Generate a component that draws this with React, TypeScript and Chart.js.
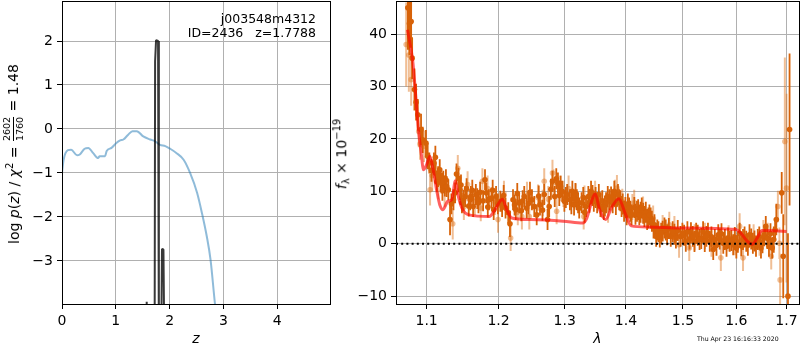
import React, { useEffect, useRef } from "react";
import { Chart, registerables } from "chart.js";

Chart.register(...registerables);

// ---------- Left panel: redshift PDF ----------
const zChi = [0, 0.03, 0.11, 0.17, 0.28, 0.33, 0.42, 0.49, 0.58, 0.67, 0.7, 0.8, 0.83, 0.92, 1.01, 1.08, 1.14, 1.23, 1.31, 1.39, 1.51, 1.64, 1.73, 1.82, 1.92, 2.01, 2.13, 2.26, 2.38, 2.51, 2.6, 2.69, 2.76, 2.84, 2.9];
const logChi = [-1.0, -0.7, -0.48, -0.47, -0.6, -0.58, -0.45, -0.43, -0.55, -0.66, -0.62, -0.62, -0.5, -0.43, -0.32, -0.26, -0.24, -0.13, -0.05, -0.05, -0.17, -0.24, -0.28, -0.36, -0.39, -0.45, -0.55, -0.7, -1.0, -1.45, -1.91, -2.44, -2.97, -3.95, -4.6];
const zPz = [1.5, 1.565, 1.571, 1.577, 1.65, 1.72, 1.73, 1.748, 1.765, 1.785, 1.8, 1.83, 1.858, 1.885, 1.91, 1.95, 2.05];
const logPz = [-8, -4.2, -3.93, -4.2, -8, -6, 1.54, 2.02, 2.02, 2.0, -5, -7, -2.73, -2.74, -6, -8, -10];
const zTicks = [0, 1, 2, 3, 4];
const logPTicks = [-3, -2, -1, 0, 1, 2];
const zMin = 0, zMax = 4.98;
const logPMin = -3.98, logPMax = 2.91;

// ---------- Right panel: spectrum ----------
// beam 1 (opaque)
const waveA = [1.0753, 1.0774, 1.0796, 1.0809, 1.0839, 1.0861, 1.0883, 1.0926, 1.0948, 1.0991, 1.1014, 1.1036, 1.1098, 1.112, 1.1154, 1.1176, 1.12, 1.1224, 1.126, 1.127, 1.1316, 1.1363, 1.1386, 1.1433, 1.1455, 1.148, 1.1525, 1.1595, 1.1605, 1.1637, 1.1675, 1.1712, 1.1805, 1.1824, 1.1861, 1.1898, 1.193, 1.1964, 1.2026, 1.2052, 1.2102, 1.2142, 1.2167, 1.2212, 1.2253, 1.2303, 1.2379, 1.2415, 1.2495, 1.253, 1.2567, 1.2617, 1.2682, 1.2733, 1.2758, 1.2809, 1.2844, 1.2894, 1.2935, 1.2961, 1.2995, 1.3039, 1.3082, 1.3121, 1.3148, 1.3192, 1.323, 1.3269, 1.334, 1.3377, 1.3421, 1.3466, 1.352, 1.3574, 1.363, 1.3667, 1.3722, 1.3777, 1.3804, 1.3886, 1.3926, 1.3968, 1.4012, 1.4053, 1.4095, 1.4188, 1.4228, 1.427, 1.4316, 1.4363, 1.4403, 1.4446, 1.4491, 1.4521, 1.4561, 1.4609, 1.4667, 1.4714, 1.4814, 1.4872, 1.4989, 1.5051, 1.5179, 1.5241, 1.5304, 1.5369, 1.5431, 1.5494, 1.5559, 1.5589, 1.5654, 1.5749, 1.5811, 1.5874, 1.5939, 1.6, 1.6064, 1.613, 1.6193, 1.6257, 1.6323, 1.642, 1.6484, 1.658, 1.6644, 1.6741, 1.6793, 1.6903, 1.6934, 1.7031, 1.7064];
const fluxA = [45, 42, 42.4, 35.4, 29.4, 27, 24.6, 21.8, 19.8, 19.2, 16.7, 15.4, 15.4, 13.5, 12.8, 14.1, 11.6, 11.9, 12.2, 10.9, 4.6, 8.4, 9.7, 12.5, 10.3, 7.8, 9.0, 8.4, 9.0, 7.1, 9.4, 7.8, 12.2, 9.7, 8.4, 8.7, 6.5, 9.0, 8.1, 7.1, 6.8, 5.9, 3.8, 8.4, 6.5, 7.8, 9.0, 6.8, 8.4, 7.1, 5.5, 7.4, 9.4, 4.6, 7.1, 11.9, 9.0, 11.6, 10.9, 10.0, 8.1, 9.4, 8.4, 10.0, 7.4, 8.4, 6.8, 7.8, 7.1, 9.0, 10.0, 8.1, 7.8, 7.1, 6.5, 7.8, 8.4, 7.8, 10.0, 8.4, 7.1, 6.2, 5.5, 6.8, 5.5, 6.2, 5.5, 6.8, 5.2, 4.6, 5.5, 4.3, 3.6, 1.4, 2.3, 2.0, 3.0, 1.7, 2.3, 1.1, 2.0, 0.45, 1.4, 2.0, 0.8, 2.3, 1.4, 0.45, -1.1, 0.8, 1.7, 0.1, -0.5, 0.45, -0.2, -0.8, 2.0, 0.8, 0.45, 1.7, 0.1, 0.8, -0.8, 3.3, -0.5, 0.8, 4.6, 9.7, -2.4, -10, 21.8];
const errA = [8, 6, 5, 4, 4, 3.5, 3, 3, 2.5, 2.5, 2.5, 2, 2, 2, 2, 2, 2, 2, 2, 2, 3, 2, 2, 2, 2, 2, 2, 2, 2, 2, 2, 2, 2, 2, 2, 2, 2, 2, 2, 2, 2, 2, 2.5, 2, 2, 2, 2, 2, 2, 2, 2, 2, 2, 2, 2, 2, 2, 2, 2, 2, 2, 2, 2, 2, 2, 2, 2, 2, 2, 2, 2, 2, 2, 2, 2, 2, 2, 2, 2, 2, 2, 2, 2, 2, 2, 2, 2, 2, 2, 2, 2, 2, 2, 2, 2, 2, 2, 2, 2, 2, 2, 2, 2, 2, 2, 2, 2, 2, 2, 2, 2, 2, 2, 2, 2, 2, 2, 2, 2, 2, 2, 2, 2, 2, 2, 2.5, 3, 4, 8, 12, 14.5];

// beam 2 (opaque)
const waveA2 = [1.1065, 1.1117, 1.1138, 1.1188, 1.1212, 1.1245, 1.1293, 1.1335, 1.1405, 1.1467, 1.1502, 1.1545, 1.1575, 1.1625, 1.1695, 1.1735, 1.1778, 1.1845, 1.1915, 1.199, 1.2075, 1.2235, 1.2275, 1.2335, 1.2355, 1.244, 1.2465, 1.2598, 1.2655, 1.2785, 1.2868, 1.2915, 1.3018, 1.3105, 1.317, 1.3212, 1.3295, 1.3318, 1.3395, 1.3445, 1.3495, 1.3548, 1.3605, 1.3648, 1.3695, 1.375, 1.383, 1.3865, 1.3905, 1.3945, 1.399, 1.4032, 1.4075, 1.4142, 1.4162, 1.4208, 1.425, 1.4295, 1.434, 1.4385, 1.4425, 1.4475, 1.4541, 1.4585, 1.4635, 1.469, 1.4745, 1.478, 1.4845, 1.4905, 1.4955, 1.502, 1.508, 1.512, 1.5145, 1.521, 1.527, 1.5335, 1.54, 1.546, 1.5525, 1.562, 1.568, 1.5715, 1.578, 1.584, 1.5905, 1.597, 1.603, 1.6095, 1.616, 1.6225, 1.629, 1.6355, 1.6385, 1.645, 1.6515, 1.655, 1.6612, 1.6675, 1.671, 1.6768];
const fluxA2 = [14.0, 16.5, 11.8, 12.5, 10.2, 11.0, 10.3, 7.6, 13.3, 11.2, 8.3, 10.5, 7.2, 10.2, 8.6, 9.8, 8.2, 7.0, 10.2, 7.6, 9.2, 7.4, 9.6, 6.3, 8.2, 7.6, 9.8, 9.1, 6.4, 10.4, 12.4, 9.2, 8.8, 7.6, 9.6, 7.8, 8.8, 6.0, 7.9, 9.2, 8.8, 9.4, 8.2, 7.2, 9.0, 8.9, 7.5, 9.4, 8.2, 7.6, 6.9, 7.6, 6.2, 6.9, 5.6, 6.5, 6.0, 5.8, 6.0, 4.9, 4.9, 3.0, 2.6, 1.3, 2.4, 2.6, 2.9, 1.4, 1.8, 2.5, 1.4, 1.6, 2.3, 0.9, 2.1, 0.4, 1.6, 1.0, 0.4, 2.0, 1.3, -0.3, 0.9, 1.9, 0.8, 1.1, 0.6, 1.2, 0.3, -0.4, 1.3, -0.3, 0.9, 0.5, -0.5, 1.3, 0.2, 1.5, 1.0, 1.9, -0.8, 2.6];
const errA2 = [2.2, 2.2, 2, 2, 2, 2, 2, 2, 2, 2, 2, 2, 2, 2, 2, 2, 2, 2, 2, 2, 2, 2, 2, 2, 2, 2, 2, 2, 2, 2, 2, 2, 2, 2, 2, 2, 2, 2, 2, 2, 2, 2, 2, 2, 2, 2, 2, 2, 2, 2, 2, 2, 2, 2, 2, 2, 2, 2, 2, 2, 2, 2, 2, 2, 2, 2, 2, 2, 2, 2, 2, 2, 2, 2, 2, 2, 2, 2, 2, 2, 2, 2, 2, 2, 2, 2, 2, 2, 2, 2, 2, 2, 2, 2, 2, 2, 2, 2, 2, 2, 2, 2];

// beam 3 (transparent)
const waveB = [1.0731, 1.0766, 1.0796, 1.0896, 1.0913, 1.0965, 1.1046, 1.1074, 1.1158, 1.1242, 1.1353, 1.1423, 1.1507, 1.1559, 1.1661, 1.1745, 1.1768, 1.1842, 1.1947, 1.1992, 1.2079, 1.2177, 1.2283, 1.2344, 1.242, 1.2455, 1.2586, 1.2658, 1.2682, 1.2745, 1.2809, 1.2824, 1.2874, 1.2935, 1.298, 1.3061, 1.3175, 1.3302, 1.3315, 1.3487, 1.3594, 1.37, 1.3815, 1.3848, 1.3938, 1.4109, 1.414, 1.4293, 1.4468, 1.4635, 1.4754, 1.4845, 1.4929, 1.5114, 1.5213, 1.5403, 1.5526, 1.5703, 1.585, 1.5971, 1.6064, 1.613, 1.6338, 1.6455, 1.6532, 1.6619, 1.669, 1.6825, 1.6856, 1.687, 1.6967, 1.7];
const fluxB = [38, 36, 31.3, 21.4, 19, 18.6, 10.3, 13, 11.5, 10, 3.8, 14.4, 7, 11.3, 8.0, 6.8, 11.9, 10.5, 8.0, 4.6, 9.5, 1.1, 6.0, 5.2, 9.3, 5.2, 8.8, 7.8, 11.9, 8.5, 13.5, 11.7, 6.2, 10.6, 9.5, 10.5, 9.0, 5.2, 8.6, 9.5, 7.5, 6.5, 9.7, 10.6, 8.0, 7.0, 7.8, 6.5, 4.8, 3.0, 3.6, 2.8, -0.2, -0.8, 1.2, 1.5, 0.0, -2.7, 1.0, 0.3, 3.3, -2.7, 1.2, 0.2, 2.0, 1.5, -2.4, 7.1, 0.1, -6.9, 19.5, 10.6];
const errB = [8, 7, 5, 3, 3, 3, 3, 3, 3, 3, 3, 2.5, 2.5, 2.5, 2.5, 2.5, 2.5, 2.5, 2.5, 2.5, 2.5, 2.5, 2.5, 2.5, 2.5, 2.5, 2.5, 2.5, 2.5, 2.5, 2.5, 2.5, 2.5, 2.5, 2.5, 2.5, 2.5, 2.5, 2.5, 2.5, 2.5, 2.5, 2.5, 2.5, 2.5, 2.5, 2.5, 2.5, 2.5, 2.5, 2.5, 2.5, 2.5, 2.5, 2.5, 2.5, 2.5, 2.5, 2.5, 2.5, 2.5, 2.5, 2.5, 2.5, 2.5, 2.5, 2.5, 3, 3, 5, 16, 18];

const modelWave = [1.0748, 1.0815, 1.0857, 1.0887, 1.0933, 1.0955, 1.1, 1.1044, 1.1088, 1.1133, 1.1177, 1.122, 1.1286, 1.134, 1.139, 1.1431, 1.149, 1.158, 1.1868, 1.1935, 1.2057, 1.212, 1.2195, 1.2468, 1.2975, 1.3288, 1.3342, 1.349, 1.356, 1.366, 1.3755, 1.388, 1.3983, 1.409, 1.437, 1.496, 1.6, 1.609, 1.6215, 1.631, 1.641, 1.6505, 1.7];
const modelFlux = [40.8, 35.1, 28.1, 22.4, 16.7, 14.1, 15.1, 16.7, 14.1, 10.3, 7.4, 6.5, 8.1, 8.4, 12.0, 9.0, 6.5, 5.5, 5.2, 6.2, 8.5, 6.5, 4.9, 4.6, 4.3, 3.95, 4.6, 9.5, 6.5, 4.6, 6.8, 8.6, 5.9, 3.4, 3.2, 3.0, 2.7, 2.0, 0.45, -0.1, 1.1, 2.5, 2.35];

const lamTicks = [1.1, 1.2, 1.3, 1.4, 1.5, 1.6, 1.7];
const fluxTicks = [-10, 0, 10, 20, 30, 40];
const lamMin = 1.06, lamMax = 1.726;
const fluxMin = -11.5, fluxMax = 46.3;

// ---------- helpers ----------
const FONT = "'DejaVu Sans', sans-serif";
const fmtNum = (v: number, d: number) => {
  const s = Math.abs(v).toFixed(d);
  return v < 0 ? "\u2212" + s : s;
};
const pairs = (xs: number[], ys: number[]) => xs.map((x, i) => ({ x, y: ys[i] }));
const errSegments = (xs: number[], ys: number[], es: number[]) => {
  const out: any[] = [];
  xs.forEach((x, i) => {
    out.push({ x, y: ys[i] - es[i] }, { x, y: ys[i] + es[i] }, { x, y: null });
  });
  return out;
};

const framePlugin = {
  id: "frame",
  afterDatasetsDraw(chart: any) {
    const { ctx, chartArea: a } = chart;
    ctx.save();
    ctx.strokeStyle = "#000";
    ctx.lineWidth = 1;
    ctx.strokeRect(Math.round(a.left) + 0.5, Math.round(a.top) + 0.5, Math.round(a.right - a.left), Math.round(a.bottom - a.top));
    ctx.restore();
  },
};

const gridOpts = { color: "#b0b0b0", lineWidth: 1, tickColor: "#000", tickLength: 5, tickWidth: 1 };
const fitX = (s: any) => { s.height = 46; s.paddingLeft = 0; s.paddingRight = 0; };
const fitY = (w: number) => (s: any) => { s.width = w; s.paddingTop = 0; s.paddingBottom = 0; };

function LeftChart() {
  const ref = useRef<HTMLCanvasElement>(null);
  useEffect(() => {
    const chart = new Chart(ref.current as HTMLCanvasElement, {
      type: "line",
      data: {
        datasets: [
          { data: pairs(zPz, logPz), borderColor: "rgba(0,0,0,0.78)", borderWidth: 2, borderJoinStyle: "bevel", pointRadius: 0, order: 0 },
          { data: pairs(zChi, logChi), borderColor: "rgba(31,119,180,0.5)", borderWidth: 2, pointRadius: 0, cubicInterpolationMode: "monotone", order: 1 },
        ],
      },
      options: {
        responsive: false,
        animation: false,
        events: [],
        layout: { autoPadding: false, padding: { top: 1, right: 2, left: 0, bottom: 0 } },
        plugins: { legend: { display: false }, tooltip: { enabled: false } },
        scales: {
          x: {
            type: "linear", min: zMin, max: zMax,
            afterFit: fitX,
            afterBuildTicks: (s: any) => { s.ticks = zTicks.map((v) => ({ value: v })); },
            ticks: { color: "#000", padding: 4, autoSkip: false, maxRotation: 0, font: { family: FONT, size: 14 }, callback: (v: any) => fmtNum(Number(v), 0) },
            grid: gridOpts,
            border: { display: false },
            title: { display: true, text: "z", color: "#000", font: { family: FONT, size: 14, style: "italic" }, padding: { top: 0, bottom: 2 } },
          },
          y: {
            type: "linear", min: logPMin, max: logPMax,
            afterFit: fitY(62),
            afterBuildTicks: (s: any) => { s.ticks = logPTicks.map((v) => ({ value: v })); },
            ticks: { color: "#000", padding: 4, autoSkip: false, font: { family: FONT, size: 14 }, callback: (v: any) => fmtNum(Number(v), 0) },
            grid: gridOpts,
            border: { display: false },
          },
        },
      } as any,
      plugins: [framePlugin],
    });
    return () => chart.destroy();
  }, []);
  return <canvas ref={ref} width={332} height={350} style={{ position: "absolute", left: 0, top: 0, width: 332, height: 350 }} />;
}

function RightChart() {
  const ref = useRef<HTMLCanvasElement>(null);
  useEffect(() => {
    const dark = "rgb(215,98,8)";
    const light = "rgba(222,110,20,0.45)";
    const pts = (xs: number[], ys: number[], c: string, order: number) => ({
      data: pairs(xs, ys), showLine: false, pointRadius: 2.8, pointBorderWidth: 0, pointBackgroundColor: c, order,
    });
    const bars = (xs: number[], ys: number[], es: number[], c: string, w: number, order: number) => ({
      data: errSegments(xs, ys, es), borderColor: c, borderWidth: w, pointRadius: 0, spanGaps: false, order,
    });
    const chart = new Chart(ref.current as HTMLCanvasElement, {
      type: "line",
      data: {
        datasets: [
          { data: [{ x: lamMin, y: 0 }, { x: lamMax, y: 0 }], borderColor: "#000", borderWidth: 2, borderDash: [2, 3.2], pointRadius: 0, order: 0 },
          { data: pairs(modelWave, modelFlux), borderColor: "rgba(255,0,0,0.62)", borderWidth: 3, pointRadius: 0, cubicInterpolationMode: "monotone", order: 1 },
          pts(waveA, fluxA, dark, 2),
          pts(waveA2, fluxA2, dark, 3),
          bars(waveA, fluxA, errA, dark, 1.8, 4),
          bars(waveA2, fluxA2, errA2, dark, 1.8, 5),
          pts(waveB, fluxB, light, 6),
          bars(waveB, fluxB, errB, light, 2, 7),
        ],
      },
      options: {
        responsive: false,
        animation: false,
        events: [],
        layout: { autoPadding: false, padding: { top: 1, right: 1, left: 0, bottom: 0 } },
        plugins: { legend: { display: false }, tooltip: { enabled: false } },
        scales: {
          x: {
            type: "logarithmic", min: lamMin, max: lamMax,
            afterFit: fitX,
            afterBuildTicks: (s: any) => { s.ticks = lamTicks.map((v) => ({ value: v })); },
            ticks: { color: "#000", padding: 4, autoSkip: false, maxRotation: 0, font: { family: FONT, size: 14 }, callback: (v: any) => Number(v).toFixed(1) },
            grid: gridOpts,
            border: { display: false },
            title: { display: true, text: "\u03bb", color: "#000", font: { family: FONT, size: 14, style: "italic" }, padding: { top: 0, bottom: 2 } },
          },
          y: {
            type: "linear", min: fluxMin, max: fluxMax,
            afterFit: fitY(64),
            afterBuildTicks: (s: any) => { s.ticks = fluxTicks.map((v) => ({ value: v })); },
            ticks: { color: "#000", padding: 4, autoSkip: false, font: { family: FONT, size: 14 }, callback: (v: any) => fmtNum(Number(v), 0) },
            grid: gridOpts,
            border: { display: false },
          },
        },
      } as any,
      plugins: [framePlugin],
    });
    return () => chart.destroy();
  }, []);
  return <canvas ref={ref} width={468} height={350} style={{ position: "absolute", left: 332, top: 0, width: 468, height: 350 }} />;
}

export default function App() {
  const txt: React.CSSProperties = { position: "absolute", fontFamily: FONT, color: "#000", whiteSpace: "pre", lineHeight: 1 };
  return (
    <div style={{ position: "fixed", left: 0, top: 0, width: 800, height: 350, background: "#fff", overflow: "hidden" }}>
      <LeftChart />
      <RightChart />
      <div style={{ ...txt, left: 13, top: 154, fontSize: 14, transform: "translate(-50%,-50%) rotate(-90deg)", display: "flex", alignItems: "center" }}>
        <span>log <i>p</i>(<i>z</i>) / <i>χ</i><sup style={{ fontSize: 10 }}>2</sup> = </span>
        <span style={{ display: "inline-flex", flexDirection: "column", alignItems: "center", fontSize: 9.5, margin: "0 1px" }}>
          <span style={{ borderBottom: "1px solid #000", paddingBottom: 1 }}>2602</span>
          <span style={{ paddingTop: 1 }}>1760</span>
        </span>
        <span> = 1.48</span>
      </div>
      <div style={{ ...txt, left: 342, top: 154, fontSize: 14, transform: "translate(-50%,-50%) rotate(-90deg)" }}>
        <i>f</i><sub style={{ fontSize: 10 }}>λ</sub> × 10<sup style={{ fontSize: 10 }}>−19</sup>
      </div>
      <div style={{ ...txt, right: 800 - 316, top: 13, fontSize: 12.5, textAlign: "right" }}>j003548m4312</div>
      <div style={{ ...txt, right: 800 - 316, top: 27, fontSize: 12.5, textAlign: "right" }}>{"ID=2436   z=1.7788"}</div>
      <div style={{ ...txt, left: 697, top: 336, fontSize: 6.2 }}>Thu Apr 23 16:16:33 2020</div>
    </div>
  );
}
